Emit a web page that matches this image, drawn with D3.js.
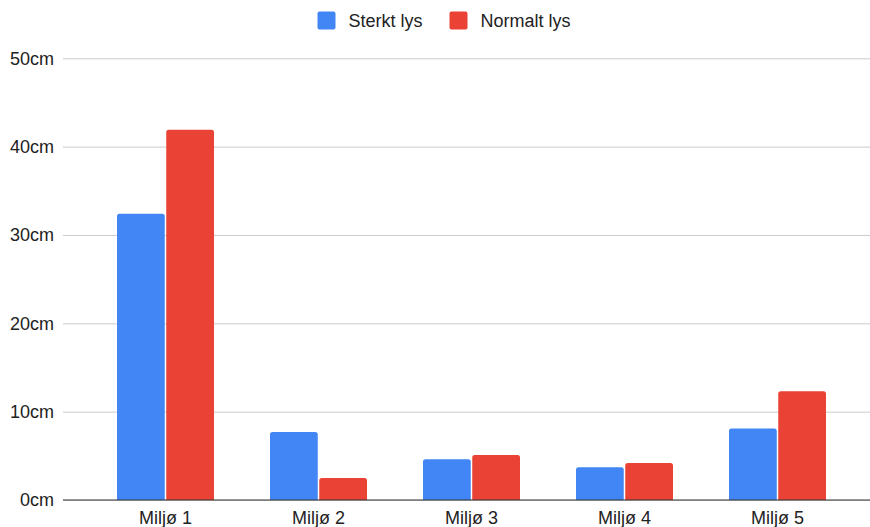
<!DOCTYPE html>
<html>
<head>
<meta charset="utf-8">
<script src="https://cdn.jsdelivr.net/npm/d3@7"></script>
<style>
  html, body { margin: 0; padding: 0; background: #ffffff; }
  svg { display: block; font-family: "Liberation Sans", Arial, sans-serif; }
</style>
</head>
<body>
<svg id="chart" width="870" height="527"></svg>
<script>
// Plant growth per environment under two light conditions
const categories = ["Miljø 1", "Miljø 2", "Miljø 3", "Miljø 4", "Miljø 5"];
const seriesNames = ["Sterkt lys", "Normalt lys"];
const sterktLys = [32.4, 7.7, 4.6, 3.7, 8.1];
const normaltLys = [41.9, 2.5, 5.1, 4.2, 12.3];
const yTicks = [0, 10, 20, 30, 40, 50];
const colors = ["#4285f4", "#ea4335"];

const seriesValues = [sterktLys, normaltLys];
const rows = categories.map((c, i) => ({
  category: c,
  values: seriesNames.map((s, j) => ({ series: s, value: seriesValues[j][i], color: colors[j] }))
}));

const svg = d3.select("#chart");
const W = 870, H = 527;
const gridLeft = 63, gridRight = 870;
const plotTop = 58.3, plotBottom = 500;

const x0 = d3.scaleBand()
  .domain(categories)
  .range([89, 854])
  .paddingInner(0.366)
  .paddingOuter(0.183);

const x1 = d3.scaleBand()
  .domain(seriesNames)
  .range([0, x0.bandwidth()])
  .paddingInner(0.03);

const y = d3.scaleLinear().domain([0, 50]).range([plotBottom, plotTop]);

// Gridlines and y labels
const yAxis = d3.axisLeft(y)
  .tickValues(yTicks)
  .tickSize(-(gridRight - gridLeft))
  .tickPadding(9)
  .tickFormat(d => d + "cm");

const yg = svg.append("g")
  .attr("transform", `translate(${gridLeft},0)`)
  .call(yAxis);
yg.select(".domain").remove();
yg.selectAll(".tick line").attr("stroke", "#cccccc").attr("stroke-width", 1);
yg.selectAll(".tick text")
  .attr("fill", "#222222")
  .attr("font-size", 18)
  .attr("font-family", "'Liberation Sans', Arial, sans-serif");

// Bars with slightly rounded top corners
function barPath(x, yTop, w, h, r) {
  r = Math.min(r, h, w / 2);
  return `M${x},${yTop + h}V${yTop + r}Q${x},${yTop} ${x + r},${yTop}` +
         `H${x + w - r}Q${x + w},${yTop} ${x + w},${yTop + r}V${yTop + h}Z`;
}

const groups = svg.append("g")
  .selectAll("g")
  .data(rows)
  .join("g")
  .attr("transform", d => `translate(${x0(d.category)},0)`);

groups.selectAll("path")
  .data(d => d.values)
  .join("path")
  .attr("fill", d => d.color)
  .attr("d", d => barPath(x1(d.series), y(d.value), x1.bandwidth(), y(0) - y(d.value), 2.5));

// Baseline and category labels
const xAxis = d3.axisBottom(x0).tickSize(0).tickPadding(12);
const xg = svg.append("g")
  .attr("transform", `translate(0,${plotBottom})`)
  .call(xAxis);
xg.select(".domain").remove();
svg.append("line")
  .attr("x1", gridLeft).attr("x2", gridRight)
  .attr("y1", y(0)).attr("y2", y(0))
  .attr("stroke", "#333333").attr("stroke-width", 1.2);
xg.selectAll(".tick text")
  .attr("fill", "#222222")
  .attr("font-size", 18)
  .attr("font-family", "'Liberation Sans', Arial, sans-serif")
  .attr("dy", null)
  .attr("y", 24);

// Legend
const legend = svg.append("g");
const legendItems = [
  { name: seriesNames[0], color: colors[0], x: 317.5 },
  { name: seriesNames[1], color: colors[1], x: 449.5 }
];
legendItems.forEach(it => {
  legend.append("rect")
    .attr("x", it.x).attr("y", 11.5)
    .attr("width", 18).attr("height", 18)
    .attr("rx", 2)
    .attr("fill", it.color);
  legend.append("text")
    .attr("x", it.x + 31).attr("y", 26.5)
    .attr("font-size", 18)
    .attr("fill", "#222222")
    .text(it.name);
});
</script>
</body>
</html>
